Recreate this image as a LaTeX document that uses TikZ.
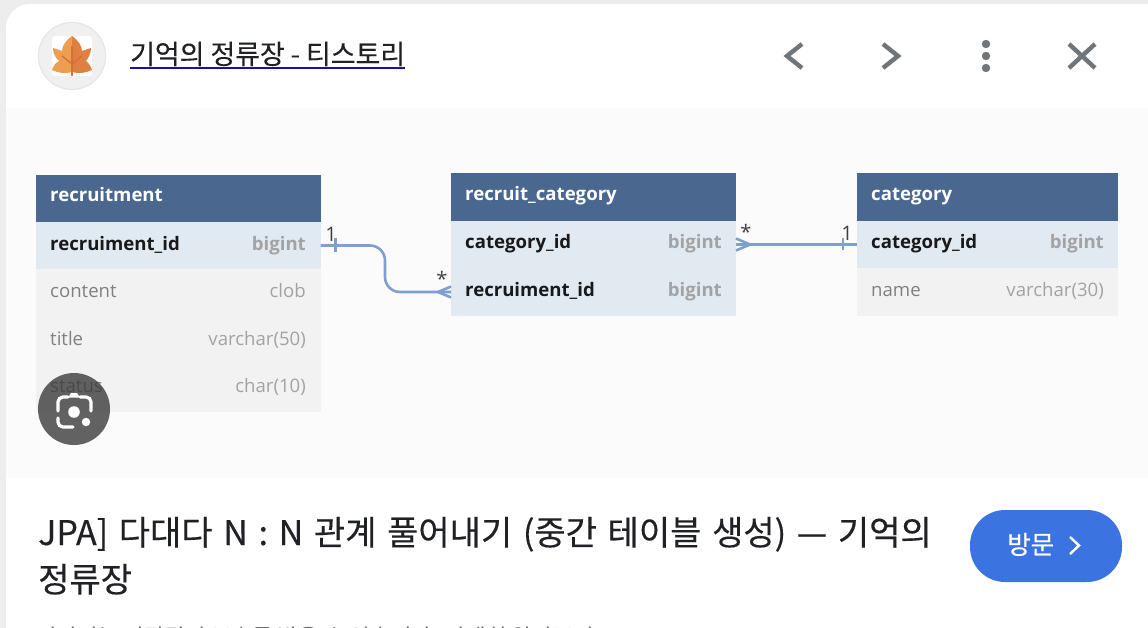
\documentclass[tikz,border=0pt]{standalone}
\usepackage{fontspec}
\setmainfont{Open Sans}
\newfontfamily\krfont{Noto Sans CJK KR}
\newfontfamily\krmed[FakeBold=0.35,WordSpace=1.4]{Noto Sans CJK KR}
\newfontfamily\krsite[FakeBold=0.15]{Noto Sans CJK KR}
\newfontfamily\krbtn[FakeBold=0.5]{Noto Sans CJK KR}
\usetikzlibrary{calc}
\definecolor{hdr}{HTML}{4A6790}
\definecolor{keyrow}{HTML}{E1E9F1}
\definecolor{plainrow}{HTML}{F2F2F2}
\definecolor{linkblue}{HTML}{7FA0CE}
\definecolor{iconGray}{HTML}{70757A}
\definecolor{btn}{HTML}{3B73E0}
\definecolor{txtdark}{HTML}{202124}
\definecolor{panel}{HTML}{FBFBFB}
\definecolor{leafA}{HTML}{EE9E50}
\definecolor{leafB}{HTML}{E07F42}
\definecolor{leafC}{HTML}{D5703A}
\definecolor{lensbg}{HTML}{3C3C3C}
\definecolor{ulink}{HTML}{1A0DAB}
\tikzset{
  x=1pt,y=-1pt,
  hdrcell/.style={rectangle,fill=hdr,inner sep=0pt,outer sep=0pt,anchor=north west},
  keycell/.style={rectangle,fill=keyrow,inner sep=0pt,outer sep=0pt,anchor=north west},
  plaincell/.style={rectangle,fill=plainrow,inner sep=0pt,outer sep=0pt,anchor=north west},
  hdrname/.style={text=white,anchor=base west,inner sep=0pt,font=\fontsize{18.6}{20}\selectfont\bfseries},
  keyname/.style={text=black!90,anchor=base west,inner sep=0pt,font=\fontsize{18.6}{20}\selectfont\bfseries},
  keytype/.style={text=black!36,anchor=base east,inner sep=0pt,font=\fontsize{18.6}{20}\selectfont\bfseries},
  colname/.style={text=black!50,anchor=base west,inner sep=0pt,font=\fontsize{18.6}{20}\selectfont},
  coltype/.style={text=black!36,anchor=base east,inner sep=0pt,font=\fontsize{18.6}{20}\selectfont},
  rel/.style={draw=linkblue,line width=2.6pt,line join=round},
  card/.style={text=black!75,inner sep=0pt,font=\fontsize{20}{22}\selectfont},
  icon/.style={draw=iconGray,line width=4.4pt},
  dotm/.style={fill=iconGray},
  krtext/.style={text=txtdark,inner sep=0pt,anchor=base west},
}
\begin{document}
\begin{tikzpicture}
\useasboundingbox (0,0) rectangle (1148,628);
\clip (0,0) rectangle (1148,628);
% page surround and card
\fill[black!7] (0,0) rectangle (1148,628);
\fill[white,rounded corners=24pt] (6,4) -- (1175,4) -- (1175,660) -- (6,660) -- cycle;
\fill[panel] (6,108) rectangle (1148,478);

% source icon
\fill[black!6] (72,56) circle [radius=34];
\draw[black!10,line width=1pt] (72,56) circle [radius=33.5];
\fill[white,rounded corners=3pt] (52,36) rectangle (92,76);
\fill[leafA] (72,36) .. controls (66,40) and (62,46) .. (62,51) -- (53,48) .. controls (53,53) and (55,57) .. (59,61)
   .. controls (55,63) and (53,67) .. (52,70) .. controls (58,73) and (66,74) .. (72,72) -- cycle;
\fill[leafB] (72,36) .. controls (78,40) and (82,46) .. (82,51) -- (91,48) .. controls (91,53) and (89,57) .. (86,61)
   .. controls (89,63) and (91,67) .. (92,70) .. controls (86,73) and (78,74) .. (72,72) -- cycle;
\draw[leafC,line width=1.4pt] (72,46) -- (72,76);
\draw[leafC,line width=1.4pt] (62,56) -- (72,64) -- (82,56);

% source title
\node[krtext,font=\krsite\fontsize{26.9}{30}\selectfont] (site) at (130,64) {기억의 정류장 - 티스토리};
\coordinate (ul) at (0,68);
\draw[ulink,line width=1.8pt] (site.base west |- ul) -- (site.base east |- ul);

% window controls
\draw[icon] (802,44) -- (787,56) -- (802,68);
\draw[icon] (883,44) -- (898,56) -- (883,68);
\fill[dotm] (986,44) circle [radius=4.2];
\fill[dotm] (986,56) circle [radius=4.2];
\fill[dotm] (986,68) circle [radius=4.2];
\draw[icon] (1069,44) -- (1095,68);
\draw[icon] (1095,44) -- (1069,68);

% recruitment
\node[hdrcell,minimum width=284.5pt,minimum height=47pt] (rh) at (36,175) {};
\node[keycell,minimum width=284.5pt,minimum height=47pt] (rk) at (36,222) {};
\node[plaincell,minimum width=284.5pt,minimum height=47pt] (r2) at (36,269) {};
\node[plaincell,minimum width=284.5pt,minimum height=48pt] (r3) at (36,316) {};
\node[plaincell,minimum width=284.5pt,minimum height=48pt] (r4) at (36,364) {};
\node[hdrname] at (50,202) {recruitment};
\node[keyname] at (50,251) {recruiment\_id};
\node[keytype] at (306,251) {bigint};
\node[colname] at (50,298) {content};
\node[coltype] at (306,298) {clob};
\node[colname] at (50,345) {title};
\node[coltype] at (306,345) {varchar(50)};
\node[colname] at (50,392) {status};
\node[coltype] at (306,392) {char(10)};

% recruit_category
\node[hdrcell,minimum width=285pt,minimum height=48pt] (ch) at (451,173) {};
\node[keycell,minimum width=285pt,minimum height=47pt] (c1) at (451,221) {};
\node[keycell,minimum width=285pt,minimum height=48pt] (c2) at (451,268) {};
\node[hdrname] at (465,201) {recruit\_category};
\node[keyname] at (465,249) {category\_id};
\node[keytype] at (722,249) {bigint};
\node[keyname] at (465,297) {recruiment\_id};
\node[keytype] at (722,297) {bigint};

% category
\node[hdrcell,minimum width=261pt,minimum height=48pt] (th) at (857,173) {};
\node[keycell,minimum width=261pt,minimum height=47pt] (t1) at (857,221) {};
\node[plaincell,minimum width=261pt,minimum height=48pt] (t2) at (857,268) {};
\node[hdrname] at (871,201) {category};
\node[keyname] at (871,249) {category\_id};
\node[keytype] at (1104,249) {bigint};
\node[colname] at (871,297) {name};
\node[coltype] at (1104,297) {varchar(30)};

% relations
\draw[rel,rounded corners=15pt] (rk.east) -- (385,245.5) -- (385,292) -- (c2.west);
\draw[rel] ($(rk.east)+(15,-7)$) -- ($(rk.east)+(15,7)$);
\draw[rel] ($(c2.west)+(-13,0)$) -- ($(c2.west)+(0,-5.5)$);
\draw[rel] ($(c2.west)+(-13,0)$) -- ($(c2.west)+(0,5.5)$);
\draw[rel] (c1.east) -- (t1.west);
\draw[rel] ($(c1.east)+(14,0)$) -- ($(c1.east)+(0,-6)$);
\draw[rel] ($(c1.east)+(14,0)$) -- ($(c1.east)+(0,6)$);
\draw[rel] ($(t1.west)+(-14,-6)$) -- ($(t1.west)+(-14,6)$);
\node[card] at (331,234) {1};
\node[card] at (442,279) {*};
\node[card] at (746,232) {*};
\node[card] at (847,233) {1};

% lens button
\fill[lensbg,fill opacity=0.8] (74,409) circle [radius=36];
\draw[white,line width=3.2pt,line cap=round,rounded corners=5pt] (58,411) -- (58,397) -- (68,397);
\draw[white,line width=3.2pt,line cap=round,rounded corners=5pt] (80,397) -- (91,397) -- (91,411);
\draw[white,line width=3.2pt,line cap=round,rounded corners=5pt] (58,418) -- (58,427) -- (73,427);
\fill[white] (68,397.5) -- (71,393) -- (77,393) -- (80,397.5) -- cycle;
\fill[white] (74,412) circle [radius=5.8];
\fill[white] (86,422) circle [radius=4.2];

% result title and button
\node[krtext,font=\krmed\fontsize{34}{36}\selectfont] at (38,545) {JPA] 다대다 N : N 관계 풀어내기 (중간 테이블 생성) — 기억의};
\node[krtext,font=\krmed\fontsize{34}{36}\selectfont] at (38,592) {정류장};
\node[krtext,text=black!60,font=\krfont\fontsize{22.4}{24}\selectfont] at (36,645) {이미지는 저작권의 보호를 받을 수 있습니다. 자세히 알아보기};
\fill[btn,rounded corners=35pt] (970,510) rectangle (1122,582);
\node[krtext,text=white,font=\krbtn\fontsize{25.5}{28}\selectfont] at (1007,554) {방문};
\draw[white,line width=2.4pt] (1070,537) -- (1079,545.5) -- (1070,554);
\end{tikzpicture}
\end{document}
